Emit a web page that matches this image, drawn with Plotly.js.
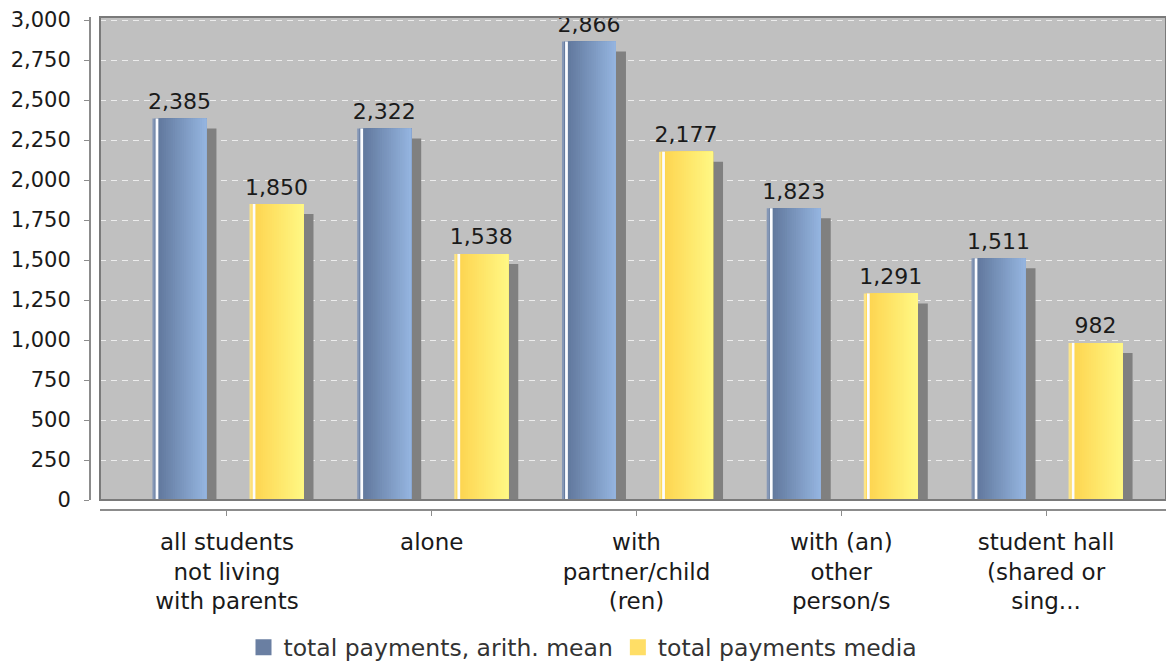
<!DOCTYPE html>
<html>
<head>
<meta charset="utf-8">
<script src="https://cdn.plot.ly/plotly-3.0.1.min.js"></script>
<style>
  html, body { margin: 0; padding: 0; background: #ffffff; }
  #chart { width: 1166px; height: 662px; }
</style>
</head>
<body>
<div id="chart"></div>
<script>
// ---- data ----
const categories = [
  'all students<br>not living<br>with parents',
  'alone',
  'with<br>partner/child<br>(ren)',
  'with (an)<br>other<br>person/s',
  'student hall<br>(shared or<br>sing...'
];
const meanValues   = [2385, 2322, 2866, 1823, 1511];
const medianValues = [1850, 1538, 2177, 1291, 982];
const seriesNames  = ['total payments, arith. mean', 'total payments media'];
const yTickVals    = [0, 250, 500, 750, 1000, 1250, 1500, 1750, 2000, 2250, 2500, 2750, 3000];

// ---- geometry / style ----
const W = 1166, H = 662;
const M = { l: 90, r: 0, t: 17, b: 152 };
const GAP = 10;                 // offset of axes from plot area (px)
const X_RANGE = [-0.62, 4.586];
const Y_RANGE = [0, 3019];
const paperW = W - M.l - M.r, paperH = H - M.t - M.b;
const plotW = paperW - GAP, plotH = paperH - GAP;
const pxX = plotW / (X_RANGE[1] - X_RANGE[0]);
const pxY = plotH / (Y_RANGE[1] - Y_RANGE[0]);

const BAR_W = 54 / pxX;
const OFFSETS = [-0.232, 0.242];
const SHADOW_DX = 10 / pxX, SHADOW_DY = 10 / pxY;
const LABEL_LIFT = 4 / pxY;
const N_STRIPS = 24;
const GRADS = [
  ['#5c7296', '#94b4df'],
  ['#fdd24c', '#fff783']
];
const EDGE = ['#8597b6', '#fbe48a'];
const LEGEND_COLORS = ['#6a7fa2', '#ffde66'];
const FONT = 'DejaVu Sans, sans-serif';

function hex2rgb(h) { return [1,3,5].map(i => parseInt(h.substr(i,2),16)); }
function mix(a, b, t) {
  const A = hex2rgb(a), B = hex2rgb(b);
  return 'rgb(' + A.map((v,i) => Math.round(v + (B[i]-v)*t)).join(',') + ')';
}
const fmt = v => v.toLocaleString('en-US');

const traces = [];
const allSeries = [meanValues, medianValues];
const idx = categories.map((_, i) => i);

allSeries.forEach((vals, s) => {
  const off = OFFSETS[s];
  // shadow
  traces.push({
    type: 'bar', x: idx.map(i => i + off + SHADOW_DX), y: vals.map(v => v - SHADOW_DY),
    width: BAR_W, marker: { color: '#808080', line: { width: 0 } },
    showlegend: false, hoverinfo: 'skip'
  });
  // gradient: each layer runs from its start to the bar's right edge, drawn left to right
  for (let k = 0; k < N_STRIPS; k++) {
    const startFrac = k / N_STRIPS;
    const w = BAR_W * (1 - startFrac);
    const t = k / (N_STRIPS - 1);
    const col = k === 0 ? EDGE[s] : mix(GRADS[s][0], GRADS[s][1], t);
    traces.push({
      type: 'bar', x: idx.map(i => i + off + BAR_W / 2 - w / 2), y: vals,
      width: w, marker: { color: col, line: { width: 0 } },
      showlegend: false, hoverinfo: 'skip'
    });
  }
  // white highlight
  traces.push({
    type: 'bar', x: idx.map(i => i + off - BAR_W / 2 + 4.5 / pxX), y: vals,
    width: 2.8 / pxX, marker: { color: '#fbfcff', line: { width: 0 } },
    showlegend: false, hoverinfo: 'skip'
  });
  // value labels
  traces.push({
    type: 'scatter', mode: 'text', x: idx.map(i => i + off), y: vals.map(v => v + LABEL_LIFT),
    text: vals.map(fmt), textposition: 'top center',
    textfont: { family: FONT, size: 22, color: '#1a1a1a' },
    cliponaxis: false, showlegend: false, hoverinfo: 'skip'
  });
});

// legend entries
seriesNames.forEach((name, s) => {
  traces.push({
    type: 'scatter', mode: 'markers', x: [null], y: [null], name: name,
    marker: { symbol: 'square', size: 16, color: LEGEND_COLORS[s] }
  });
});

const layout = {
  width: W, height: H,
  margin: M,
  paper_bgcolor: '#ffffff',
  plot_bgcolor: '#c0c0c0',
  barmode: 'overlay',
  font: { family: FONT, size: 22, color: '#1a1a1a' },
  showlegend: true,
  legend: {
    orientation: 'h', x: 0.5, xanchor: 'center', xref: 'container',
    y: 0.022, yanchor: 'middle', yref: 'container',
    font: { family: FONT, size: 23.5, color: '#333333' },
    itemwidth: 30, tracegroupgap: 0, bgcolor: 'rgba(0,0,0,0)'
  },
  xaxis: {
    domain: [GAP / paperW, 1], anchor: 'free', position: 0,
    range: X_RANGE, tickmode: 'array', tickvals: idx, ticktext: categories,
    showgrid: false, zeroline: false,
    showline: true, linecolor: '#8c8c8c', linewidth: 2,
    ticks: 'outside', ticklen: 5, tickcolor: '#8c8c8c', tickwidth: 1,
    ticklabelstandoff: 6,
    tickfont: { family: FONT, size: 23, color: '#1a1a1a' }, fixedrange: true
  },
  yaxis: {
    domain: [GAP / paperH, 1], anchor: 'free', position: 0,
    range: Y_RANGE, tickmode: 'array', tickvals: yTickVals,
    ticktext: yTickVals.map(fmt),
    showgrid: true, gridcolor: '#ececec', gridwidth: 1, griddash: '6px,5px',
    zeroline: false,
    showline: true, linecolor: '#8c8c8c', linewidth: 2,
    ticks: 'outside', ticklen: 5, tickcolor: '#8c8c8c', tickwidth: 1,
    ticklabelstandoff: 9,
    tickfont: { family: FONT, size: 21, color: '#1a1a1a' }, fixedrange: true
  },
  shapes: [{
    type: 'rect', xref: 'x domain', yref: 'y domain', x0: 0, x1: 1, y0: 0, y1: 1,
    line: { color: '#7a7a7a', width: 2 }, fillcolor: 'rgba(0,0,0,0)', layer: 'above'
  }]
};

Plotly.newPlot('chart', traces, layout, { displayModeBar: false, staticPlot: true });
</script>
</body>
</html>
